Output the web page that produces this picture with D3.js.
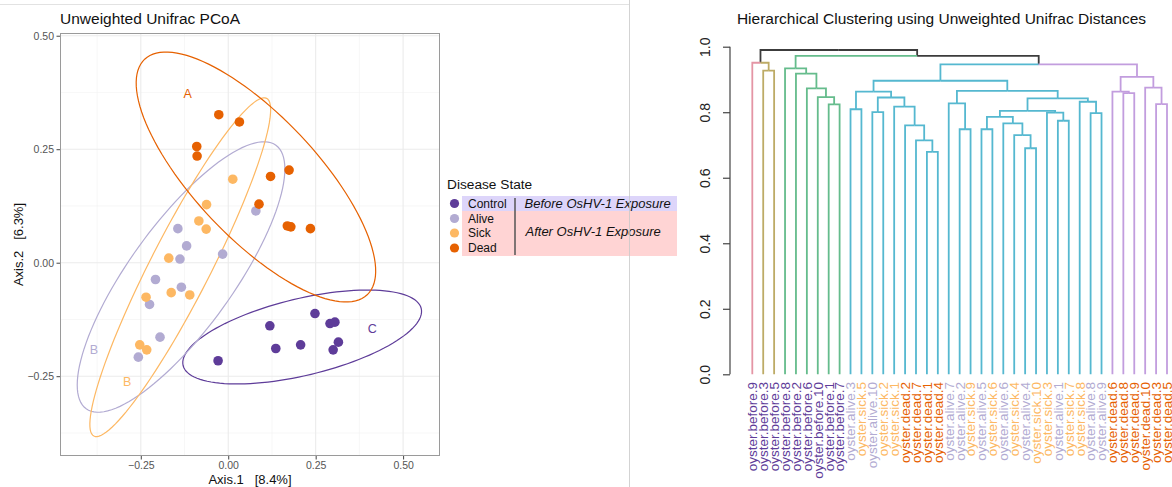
<!DOCTYPE html>
<html>
<head>
<meta charset="utf-8">
<script src="https://cdn.jsdelivr.net/npm/d3@7"></script>
<style>
  html, body { margin: 0; padding: 0; background: #fff; }
  svg { display: block; font-family: "Liberation Sans", Arial, Helvetica, sans-serif; }
</style>
</head>
<body>
<svg id="fig" width="1172" height="487"></svg>
<script>
// ---------- PCoA ordination (Axis.1 / Axis.2 scores) ----------
const groupNames  = ["Control", "Alive", "Sick", "Dead"];
const groupColors = ["#5e3c99", "#b2abd2", "#fdb863", "#e66101"];

const controlAxis1 = [0.248, 0.119, 0.291, 0.305, 0.136, 0.207, 0.315, 0.300, -0.029];
const controlAxis2 = [-0.112, -0.139, -0.134, -0.131, -0.189, -0.181, -0.175, -0.192, -0.216];
const aliveAxis1   = [0.079, -0.144, -0.119, -0.138, -0.016, -0.208, -0.134, -0.225, -0.195, -0.257];
const aliveAxis2   = [0.114, 0.075, 0.037, 0.008, 0.019, -0.037, -0.054, -0.092, -0.164, -0.208];
const sickAxis1    = [0.013, -0.062, -0.084, -0.063, -0.170, -0.163, -0.110, -0.235, -0.253, -0.233];
const sickAxis2    = [0.184, 0.128, 0.092, 0.074, 0.010, -0.066, -0.071, -0.076, -0.181, -0.192];
const deadAxis1    = [-0.027, 0.032, -0.090, -0.089, 0.121, 0.174, 0.088, 0.169, 0.179, 0.235];
const deadAxis2    = [0.326, 0.310, 0.256, 0.235, 0.190, 0.204, 0.129, 0.081, 0.079, 0.075];

// 95% confidence ellipses per group: centre and two conjugate semi-axes (data units)
const ellipseCentre1 = [0.2114, -0.1349, -0.1372, 0.0792];
const ellipseCentre2 = [-0.1637, -0.0315, -0.0099, 0.1888];
const ellipseMajor   = [[0.3404, 0.0628], [0.2712, 0.2903], [0.2469, 0.3720], [0.3181, -0.2595]];
const ellipseMinor   = [[0.0256, -0.0822], [0.1207, -0.0670], [0.0764, -0.0300], [0.1267, 0.0921]];

// significance letters placed next to each ellipse
const letterText  = ["C", "B", "B", "A"];
const letterAxis1 = [0.412, -0.384, -0.289, -0.116];
const letterAxis2 = [-0.146, -0.192, -0.261, 0.373];

const pcoaTicks  = [-0.25, 0, 0.25, 0.5];
const pcoaMinor  = [-0.375, -0.125, 0.125, 0.375];

// ---------- Hierarchical clustering (leaf order, merges, heights) ----------
const leafLabels = [
  "oyster.before.9", "oyster.before.3", "oyster.before.5", "oyster.before.8", "oyster.before.2",
  "oyster.before.6", "oyster.before.10", "oyster.before.1", "oyster.before.7",
  "oyster.alive.3", "oyster.sick.5", "oyster.alive.10", "oyster.sick.2", "oyster.sick.1",
  "oyster.dead.2", "oyster.dead.7", "oyster.dead.1", "oyster.dead.4",
  "oyster.alive.7", "oyster.alive.2", "oyster.sick.9", "oyster.alive.5", "oyster.sick.6",
  "oyster.alive.6", "oyster.sick.4", "oyster.alive.4", "oyster.sick.10", "oyster.sick.3",
  "oyster.alive.1", "oyster.sick.7", "oyster.sick.8", "oyster.alive.8", "oyster.alive.9",
  "oyster.dead.6", "oyster.dead.8", "oyster.dead.9", "oyster.dead.10", "oyster.dead.3", "oyster.dead.5"
];
// merge table: negative = leaf position (1-based), positive = earlier merge row (1-based)
const mergePairs = [
  [-17, -18], [-16, 1], [-15, 2], [-14, 3], [-12, -13], [5, 4], [-10, -11], [7, 6],
  [-20, -21], [-19, 9], [-22, -23], [-26, -27], [-25, 12], [-24, 13], [11, 14],
  [-29, -30], [-28, 16], [15, 17], [-32, -33], [-31, 19], [18, 20], [10, 21], [8, 22],
  [-35, -36], [-34, 24], [-38, -39], [-37, 26], [25, 27], [23, 28],
  [-8, -9], [-7, 30], [-6, 31], [-5, 32], [-4, 33], [34, 29],
  [-2, -3], [-1, 36], [37, 35]
];
const mergeHeights = [
  0.679, 0.714, 0.760, 0.817, 0.800, 0.845, 0.809, 0.863,
  0.748, 0.827, 0.748, 0.690, 0.730, 0.766, 0.786,
  0.774, 0.799, 0.804, 0.797, 0.832, 0.842, 0.865, 0.896,
  0.858, 0.863, 0.825, 0.875, 0.908, 0.946,
  0.824, 0.846, 0.873, 0.918, 0.934, 0.972,
  0.927, 0.951, 0.990
];
// k = 5 branch clusters, left to right
const clusterSizes  = [1, 2, 6, 24, 6];
const clusterColors = ["#E495A5", "#BDAB66", "#65BC8C", "#55B8D0", "#C29DDE"];
const dendroTicks = [0, 0.2, 0.4, 0.6, 0.8, 1.0];

const stateColor = { before: groupColors[0], alive: groupColors[1], sick: groupColors[2], dead: groupColors[3] };

const svg = d3.select("#fig");

// ---------- frame separators ----------
svg.append("line").attr("x1", 0).attr("x2", 629).attr("y1", 4.5).attr("y2", 4.5)
  .attr("stroke", "#e2e2e2").attr("stroke-width", 1);

// ================= Left: PCoA =================
const px = d3.scaleLinear().domain([-0.481, 0.6055]).range([60, 440]);
const py = d3.scaleLinear().domain([-0.4258, 0.506]).range([456, 33]);

const panel = svg.append("g");
panel.append("rect").attr("x", 60).attr("y", 33).attr("width", 380).attr("height", 423).attr("fill", "#fff");

// grid
panel.selectAll(".gxm").data(pcoaMinor).join("line")
  .attr("x1", d => px(d)).attr("x2", d => px(d)).attr("y1", 33).attr("y2", 456)
  .attr("stroke", "#f2f2f2").attr("stroke-width", 0.6);
panel.selectAll(".gym").data(pcoaMinor).join("line")
  .attr("y1", d => py(d)).attr("y2", d => py(d)).attr("x1", 60).attr("x2", 440)
  .attr("stroke", "#f2f2f2").attr("stroke-width", 0.6);
panel.selectAll(".gx").data(pcoaTicks).join("line")
  .attr("x1", d => px(d)).attr("x2", d => px(d)).attr("y1", 33).attr("y2", 456)
  .attr("stroke", "#ebebeb").attr("stroke-width", 1.1);
panel.selectAll(".gy").data(pcoaTicks).join("line")
  .attr("y1", d => py(d)).attr("y2", d => py(d)).attr("x1", 60).attr("x2", 440)
  .attr("stroke", "#ebebeb").attr("stroke-width", 1.1);

// ellipses
const tSteps = d3.range(0, 361, 3).map(a => a * Math.PI / 180);
const ellipseLine = d3.line().x(d => px(d[0])).y(d => py(d[1])).curve(d3.curveLinearClosed);
groupNames.forEach((g, i) => {
  const pts = tSteps.map(t => [
    ellipseCentre1[i] + Math.cos(t) * ellipseMajor[i][0] + Math.sin(t) * ellipseMinor[i][0],
    ellipseCentre2[i] + Math.cos(t) * ellipseMajor[i][1] + Math.sin(t) * ellipseMinor[i][1]
  ]);
  panel.append("path").attr("d", ellipseLine(pts))
    .attr("fill", "none").attr("stroke", groupColors[i]).attr("stroke-width", 1.2);
});

// points
const groupScores = [
  [controlAxis1, controlAxis2], [aliveAxis1, aliveAxis2], [sickAxis1, sickAxis2], [deadAxis1, deadAxis2]
];
groupScores.forEach(([a1, a2], i) => {
  panel.selectAll(null).data(d3.zip(a1, a2)).join("circle")
    .attr("cx", d => px(d[0])).attr("cy", d => py(d[1])).attr("r", 4.8)
    .attr("fill", groupColors[i]);
});

// letters
panel.selectAll(".lt").data(letterText).join("text")
  .attr("x", (d, i) => px(letterAxis1[i])).attr("y", (d, i) => py(letterAxis2[i]))
  .attr("dy", "0.36em").attr("text-anchor", "middle")
  .attr("font-size", 12.5).attr("fill", (d, i) => groupColors[i]).text(d => d);

// border
panel.append("rect").attr("x", 60.5).attr("y", 33.5).attr("width", 379).attr("height", 422)
  .attr("fill", "none").attr("stroke", "#9a9a9a").attr("stroke-width", 1);

// axes
const xAxis = d3.axisBottom(px).tickValues(pcoaTicks).tickFormat(d3.format(".2f")).tickSize(3.5).tickPadding(2.5);
const yAxis = d3.axisLeft(py).tickValues(pcoaTicks).tickFormat(d3.format(".2f")).tickSize(3.5).tickPadding(2.5);
const gx = svg.append("g").attr("transform", "translate(0,456)").call(xAxis);
const gy = svg.append("g").attr("transform", "translate(60,0)").call(yAxis);
[gx, gy].forEach(g => {
  g.select(".domain").remove();
  g.selectAll(".tick line").attr("stroke", "#444");
  g.selectAll(".tick text").attr("fill", "#555").attr("font-size", 10.5)
    .attr("font-family", "'Liberation Sans', Arial, sans-serif")
    .text(function () { return this.textContent.replace("-", "\u2212"); });
});

svg.append("text").attr("x", 60).attr("y", 23.5).attr("font-size", 15.5).attr("fill", "#111")
  .text("Unweighted Unifrac PCoA");
svg.append("text").attr("x", 250).attr("y", 484).attr("text-anchor", "middle")
  .attr("font-size", 13).attr("fill", "#111").attr("xml:space", "preserve")
  .text("Axis.1   [8.4%]");
svg.append("text").attr("transform", "translate(22.5,244.5) rotate(-90)").attr("text-anchor", "middle")
  .attr("font-size", 13).attr("fill", "#111").attr("xml:space", "preserve")
  .text("Axis.2   [6.3%]");

// legend
const legend = svg.append("g");
legend.append("rect").attr("x", 462).attr("y", 196).attr("width", 215).attr("height", 15).attr("fill", "#ddd5fa");
legend.append("rect").attr("x", 462).attr("y", 211).attr("width", 215).attr("height", 45).attr("fill", "#ffd4d4");
legend.append("text").attr("x", 447).attr("y", 189).attr("font-size", 13.7).attr("fill", "#111").text("Disease State");
const keyY = [203.5, 218.5, 233, 248];
legend.selectAll(".kd").data(groupNames).join("circle")
  .attr("cx", 454.5).attr("cy", (d, i) => keyY[i]).attr("r", 4.6).attr("fill", (d, i) => groupColors[i]);
legend.selectAll(".kt").data(groupNames).join("text")
  .attr("x", 468).attr("y", (d, i) => keyY[i]).attr("dy", "0.36em")
  .attr("font-size", 12).attr("fill", "#111").text(d => d);
legend.append("line").attr("x1", 515).attr("x2", 515).attr("y1", 198).attr("y2", 255)
  .attr("stroke", "#555").attr("stroke-width", 1.5);
legend.append("text").attr("x", 524.5).attr("y", 203.5).attr("dy", "0.36em")
  .attr("font-size", 13).attr("font-style", "italic").attr("fill", "#111").text("Before OsHV-1 Exposure");
legend.append("text").attr("x", 525.5).attr("y", 231).attr("dy", "0.36em")
  .attr("font-size", 13).attr("font-style", "italic").attr("fill", "#111").text("After OsHV-1 Exposure");

svg.append("line").attr("x1", 629.5).attr("x2", 629.5).attr("y1", 0).attr("y2", 487)
  .attr("stroke", "#c8c8c8").attr("stroke-opacity", 0.8).attr("stroke-width", 1);

// ================= Right: dendrogram =================
const leafNodes = leafLabels.map((name, i) => ({ name, leafIndex: i, height: 0 }));
const innerNodes = [];
mergePairs.forEach(([a, b], k) => {
  const pick = v => (v < 0 ? leafNodes[-v - 1] : innerNodes[v - 1]);
  innerNodes.push({ height: mergeHeights[k], children: [pick(a), pick(b)] });
});
const root = d3.hierarchy(innerNodes[innerNodes.length - 1]);
d3.cluster().size([1, 1]).separation(() => 1)(root);

const clusterStart = d3.cumsum([0, ...clusterSizes]);
const leafCluster = i => d3.bisectRight(clusterStart, i) - 1;

// d3.cluster pads half a leaf slot on each side; map first/last leaf onto the plot edges
const nLeaves = leafLabels.length;
const dx = d3.scaleLinear().domain([0.5 / nLeaves, 1 - 0.5 / nLeaves]).range([752.3, 1167.0]);
const dy = d3.scaleLinear().domain([0, 1]).range([374.3, 46.7]);

root.each(d => {
  const ids = new Set(d.leaves().map(l => leafCluster(l.data.leafIndex)));
  d.branchColor = ids.size === 1 ? clusterColors[[...ids][0]] : "#3c3c3c";
});

const dendro = svg.append("g");
dendro.selectAll("path").data(root.descendants().filter(d => d.parent)).join("path")
  .attr("d", d => `M${dx(d.parent.x)},${dy(d.parent.data.height)}H${dx(d.x)}V${dy(d.data.height)}`)
  .attr("fill", "none").attr("stroke", d => d.branchColor).attr("stroke-width", 1.8);

// leaf labels
dendro.selectAll(".leaf").data(root.leaves()).join("text")
  .attr("transform", d => `translate(${dx(d.x)},382) rotate(-90)`)
  .attr("dy", "0.36em").attr("text-anchor", "end").attr("font-size", 13.5)
  .attr("fill", d => stateColor[d.data.name.split(".")[1]])
  .text(d => d.data.name);

// height axis
const dAxis = d3.axisLeft(dy).tickValues(dendroTicks).tickFormat(d3.format(".1f")).tickSize(7).tickPadding(0);
const gd = svg.append("g").attr("transform", "translate(730,0)").call(dAxis);
gd.select(".domain").attr("stroke", "#444").attr("stroke-width", 1.2).attr("d", `M0,${dy(0)}V${dy(1)}`);
gd.selectAll(".tick line").attr("stroke", "#444").attr("stroke-width", 1.2);
gd.selectAll(".tick text")
  .attr("x", null).attr("dy", null)
  .attr("transform", "translate(-25,0) rotate(-90)")
  .attr("text-anchor", "middle").attr("dy", "0.36em")
  .attr("font-size", 14).attr("fill", "#222")
  .attr("font-family", "'Liberation Sans', Arial, sans-serif");

svg.append("text").attr("x", 941.5).attr("y", 23.5).attr("text-anchor", "middle")
  .attr("font-size", 15.5).attr("fill", "#111")
  .text("Hierarchical Clustering using Unweighted Unifrac Distances");
</script>
</body>
</html>
